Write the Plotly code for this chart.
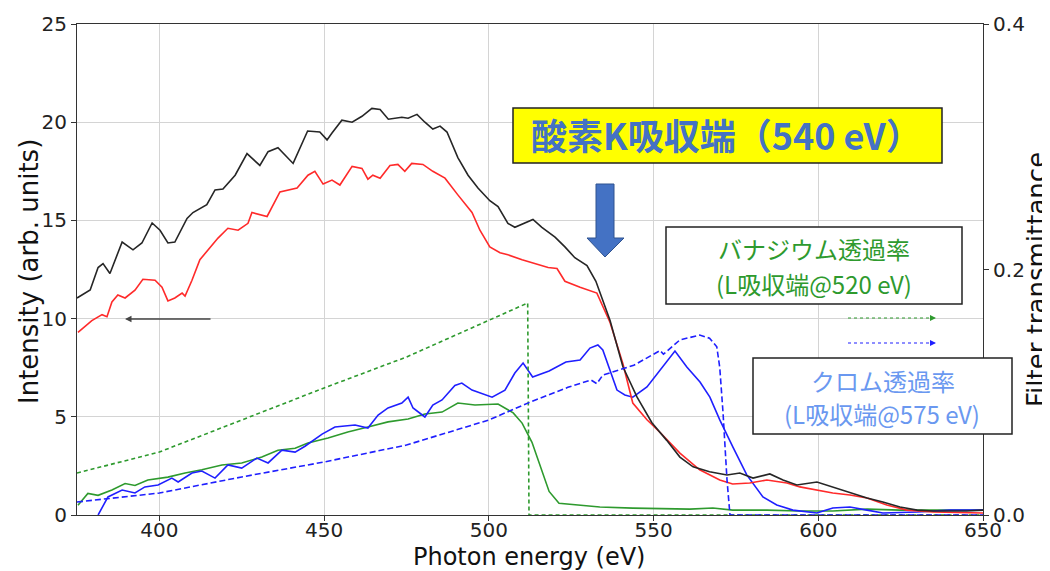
import plotly.graph_objects as go

# ---------------- data ----------------
bk_x = [375, 379, 381.4, 382.9, 385, 388.7, 392, 394.7, 397.8, 400.2, 402.6, 404.7, 408.4, 410.2, 414.4,
        416.9, 419.3, 423, 426.6, 430.5, 433, 436, 440.6, 445, 448.7, 450.9, 452.4, 455.4, 458.5, 461.5,
        464.5, 467, 469.5, 473.6, 475.5, 478.2, 480.6, 483, 485.2, 487.3, 490.6, 493.7, 496.7, 500.3,
        502.8, 505.8, 507.9, 511.6, 513.4, 516.1, 520.1, 523.1, 526.1, 529.8, 532.5, 536.8, 540.7, 545,
        549.5, 554, 558, 562, 567, 572.3, 576.2, 580.2, 585.3, 589.3, 593.5, 599.6, 604.4, 609.6, 614.8,
        619.6, 624.8, 630, 634.8, 640, 645, 650]
bk_y = [11.05, 11.46, 12.6, 12.8, 12.3, 13.9, 13.5, 13.85, 14.87, 14.5, 13.85, 13.9, 15.1, 15.4, 15.8,
        16.55, 16.6, 17.3, 18.4, 17.8, 18.5, 18.7, 17.9, 19.55, 19.5, 19.1, 19.45, 20.1, 20.0, 20.3,
        20.7, 20.65, 20.15, 20.25, 20.2, 20.4, 20.0, 19.65, 19.8, 19.5, 18.2, 17.3, 16.65, 16.0,
        15.7, 14.85, 14.65, 14.9, 15.05, 14.65, 14.15, 13.65, 13.1, 12.7, 11.9, 9.9, 7.55, 6.0,
        4.7, 3.8, 2.95, 2.45, 2.2, 2.04, 2.14, 1.88, 2.09, 1.78, 1.53, 1.68, 1.43, 1.12, 0.87,
        0.66, 0.41, 0.25, 0.2, 0.2, 0.2, 0.25]

rd_x = [375.3, 379.5, 382.6, 384.1, 385.6, 387.4, 389.6, 392.6, 395, 398.7, 400.8, 402.6, 404.7, 406.9,
        407.8, 409.9, 412.3, 414.8, 417.8, 420.8, 423.9, 426.9, 428.1, 432.7, 436.6, 441.8, 445.1, 447.2,
        449.7, 452.4, 454.8, 458.5, 461.5, 463.3, 464.8, 467, 470, 472.4, 474.5, 476.6, 480, 483, 486.7,
        490.6, 494.9, 497.3, 500.3, 503.4, 505.8, 510.1, 514, 518, 520.7, 523.1, 527.7, 532.8, 536.8,
        540.7, 543.7, 548, 552, 558, 564, 570.1, 574, 579.2, 584.4, 590.5, 594.4, 599.6, 604.4, 609.6,
        614.8, 620.8, 626.9, 634.8, 642, 650]
rd_y = [9.3, 9.9, 10.2, 10.1, 10.85, 11.2, 11.05, 11.45, 12.0, 11.95, 11.6, 10.9, 11.05, 11.3,
        11.15, 11.95, 13.0, 13.5, 14.1, 14.6, 14.5, 14.85, 15.4, 15.2, 16.45, 16.65, 17.3, 17.5,
        16.85, 17.05, 16.8, 17.75, 17.65, 17.1, 17.3, 17.15, 17.8, 17.85, 17.5, 17.9, 17.85, 17.5, 17.15,
        16.3, 15.4, 14.5, 13.65, 13.35, 13.25, 13.0, 12.8, 12.6, 12.55, 11.9, 11.6, 11.3, 9.8,
        7.7, 5.7, 4.85, 4.2, 3.15, 2.3, 1.78, 1.58, 1.63, 1.78, 1.63, 1.43, 1.27, 1.12, 1.02,
        0.87, 0.51, 0.25, 0.15, 0.12, 0.1]

gn_x = [375.3, 378.3, 381.4, 385.6, 389.6, 392.6, 396.5, 402.6, 407.8, 412.9, 419, 425, 431.1, 436,
        441.2, 445.1, 451.2, 457.2, 463.3, 469.4, 475.5, 480.6, 485.8, 490.6, 495.8, 502.8, 507.4,
        510.1, 513.1, 515.8, 518.3, 521.3, 527.7, 533.7, 543.7, 554, 561, 568, 574, 584.4, 594.4,
        604.4, 614.8, 624.8, 637, 650]
gn_y = [0.5, 1.1, 1.0, 1.27, 1.6, 1.5, 1.78, 1.93, 2.14, 2.3, 2.55, 2.65, 2.95, 3.3,
        3.4, 3.67, 3.92, 4.23, 4.48, 4.74, 4.89, 5.14, 5.24, 5.7, 5.6, 5.65, 5.2,
        4.68, 3.7, 2.45, 1.2, 0.6, 0.5, 0.41, 0.35, 0.3, 0.3, 0.36, 0.25, 0.25, 0.2,
        0.2, 0.3, 0.25, 0.25, 0.25]

bl_x = [381.4, 384.4, 388.7, 392.6, 395.6, 399.6, 403.8, 405.7, 409.9, 412.9, 416.9, 420.8, 425, 429.6,
        433, 437.2, 441.2, 444.2, 449.4, 453.3, 456.3, 459.4, 463.3, 466.4, 469.4, 473.6, 475.5, 477,
        480.6, 483, 485.8, 489.7, 491.8, 494.9, 501, 504.9, 507.9, 510.4, 513.3, 518.3, 523.4, 527.7,
        530.7, 533.1, 534.6, 536.8, 538.9, 541.3, 543.7, 548, 552, 556.5, 560.1, 564.1, 567.1, 570.1,
        574.1, 578.3, 583.2, 587.4, 592.3, 599.6, 604.4, 609.6, 614.8, 619.6, 630, 640, 650]
bl_y = [0.0, 0.92, 1.27, 1.12, 1.43, 1.53, 1.88, 1.68, 2.14, 2.24, 1.88, 2.55, 2.39, 2.9,
        2.65, 3.3, 3.2, 3.5, 4.12, 4.48, 4.53, 4.58, 4.43, 5.09, 5.45, 5.7, 6.0, 5.45,
        4.99, 5.6, 5.86, 6.6, 6.72, 6.36, 6.0, 6.36, 7.23, 7.74, 7.03, 7.33, 7.79, 7.89,
        8.5, 8.66, 8.4, 7.38, 6.36, 6.11, 6.0, 6.52, 7.38, 8.35, 7.54, 6.77, 6.0, 4.84,
        3.46, 2.04, 0.92, 0.51, 0.25, 0.1, 0.36, 0.41, 0.25, 0.1, 0.15, 0.25, 0.25]

# filter transmittance (right axis)
vt_x = [375, 400, 425, 450, 475, 500, 511.8, 512.2, 650]
vt_y = [0.0342, 0.0513, 0.0774, 0.1035, 0.1287, 0.159, 0.1727, 0.0, 0.0]

ct_x = [375, 400, 425, 450, 475, 500, 513, 524, 531, 532.8, 534.6, 544, 552, 553, 558, 564, 567,
        569.2, 570.1, 571.1, 572.3, 573.2, 650]
ct_y = [0.0106, 0.0179, 0.031, 0.0432, 0.057, 0.0774, 0.0925, 0.104, 0.11, 0.107, 0.114, 0.122,
        0.134, 0.131, 0.1426, 0.1466, 0.144, 0.137, 0.12, 0.083, 0.0285, 0.0, 0.0]

x_ticks = [400, 450, 500, 550, 600, 650]
y_ticks = [0, 5, 10, 15, 20, 25]
y2_ticks = [0.0, 0.2, 0.4]
y2_ticktext = ["0.0", "0.2", "0.4"]

x_title = "Photon energy (eV)"
y_title = "Intensity (arb. units)"
y2_title = "Filter transmittance"
title_box = "酸素K吸収端（540 eV）"
v_label = ["バナジウム透過率", "(L吸収端@520 eV)"]
cr_label = ["クロム透過率", "(L吸収端@575 eV)"]

# ---------------- colours / styles ----------------
C_BLACK = "#262626"
C_RED = "#ff2a2a"
C_GREEN = "#2e9a2e"
C_BLUE = "#1f1fff"
C_LBLUE = "#6a98f0"
C_TITLE = "#4472c4"
JP = "Noto Sans CJK JP"
LAT = "DejaVu Sans"

fig = go.Figure()
fig.add_trace(go.Scatter(x=vt_x, y=vt_y, yaxis="y2", mode="lines",
                         line=dict(color=C_GREEN, width=1.6, dash="4px,3px")))
fig.add_trace(go.Scatter(x=ct_x, y=ct_y, yaxis="y2", mode="lines",
                         line=dict(color=C_BLUE, width=1.6, dash="6px,3px")))
fig.add_trace(go.Scatter(x=gn_x, y=gn_y, mode="lines", line=dict(color=C_GREEN, width=1.6)))
fig.add_trace(go.Scatter(x=bl_x, y=bl_y, mode="lines", line=dict(color=C_BLUE, width=1.6)))
fig.add_trace(go.Scatter(x=rd_x, y=rd_y, mode="lines", line=dict(color=C_RED, width=1.6)))
fig.add_trace(go.Scatter(x=bk_x, y=bk_y, mode="lines", line=dict(color=C_BLACK, width=1.6)))

# plot-area pixel geometry (page pixels) -> paper coordinates for overlay decorations
L, R, T, B = 77, 983, 24, 515
OFF = 8  # default body margin of the page
def px(v):
    return (v - L) / (R - L)
def py(v):
    return (B - v) / (B - T)

shapes = []
annotations = []

def label(x, y, text, size, color, bold=False, family=JP, angle=0, yanchor="middle"):
    annotations.append(dict(xref="paper", yref="paper", x=px(x), y=py(y), xanchor="center", yanchor=yanchor,
                            text=("<b>%s</b>" % text) if bold else text, showarrow=False, textangle=angle,
                            font=dict(family=family, size=size, color=color)))

# axis titles
label(529, 573, x_title, 24, "#111", family=LAT, yanchor="bottom")
label(29, 272, y_title, 26, "#111", family=LAT, angle=-90)
label(1037, 280, y2_title, 26, "#111", family=LAT, angle=-90)

# yellow title box
shapes.append(dict(type="rect", xref="paper", yref="paper", x0=px(513), x1=px(942), y0=py(163), y1=py(108),
                   fillcolor="#ffff00", line=dict(color="#222", width=1.5), layer="above"))
label(726, 134, title_box, 36, C_TITLE, bold=True)

# blue block arrow
path = "M {a},{t} L {b},{t} L {b},{h} L {c},{h} L {tx},{ty} L {d},{h} L {a},{h} Z".format(
    a=px(596), b=px(614), t=py(184), h=py(238), c=px(624), d=px(587), tx=px(605), ty=py(257))
shapes.append(dict(type="path", xref="paper", yref="paper", path=path, fillcolor=C_TITLE,
                   line=dict(color="#2f528f", width=1), layer="above"))

# vanadium label box
shapes.append(dict(type="rect", xref="paper", yref="paper", x0=px(666), x1=px(962), y0=py(304), y1=py(227),
                   fillcolor="white", line=dict(color="#222", width=1.5), layer="above"))
label(814, 248, v_label[0], 24, C_GREEN)
label(814, 283, v_label[1], 24, C_GREEN)

# chromium label box
shapes.append(dict(type="rect", xref="paper", yref="paper", x0=px(753), x1=px(1012), y0=py(434), y1=py(358),
                   fillcolor="white", line=dict(color="#222", width=1.5), layer="above"))
label(883, 380, cr_label[0], 24, C_LBLUE)
label(882, 413, cr_label[1], 24, C_LBLUE)

# axis-indicating arrows
annotations.append(dict(xref="paper", yref="paper", x=px(125), y=py(319), ax=87, ay=0, text="",
                        showarrow=True, arrowhead=2, arrowsize=1, arrowwidth=1.3, arrowcolor="#444"))
for yy, col in ((318, C_GREEN), (343, C_BLUE)):
    shapes.append(dict(type="line", xref="paper", yref="paper", x0=px(848), x1=px(932), y0=py(yy), y1=py(yy),
                       line=dict(color=col, width=1.2, dash="dot"), layer="above"))
    annotations.append(dict(xref="paper", yref="paper", x=px(936), y=py(yy), ax=-5, ay=0, text="",
                            showarrow=True, arrowhead=2, arrowsize=1, arrowwidth=1.2, arrowcolor=col))

axis_common = dict(showline=True, linecolor="#333", linewidth=1.2, ticks="outside", ticklen=5,
                   tickcolor="#333", tickfont=dict(family=LAT, size=20, color="#222"), zeroline=False,
                   automargin=False)

fig.update_layout(
    width=1050, height=571,
    margin=dict(l=L - OFF, r=1050 - (R - OFF), t=T - OFF, b=571 - (B - OFF), autoexpand=False),
    paper_bgcolor="white", plot_bgcolor="white",
    showlegend=False,
    xaxis=dict(range=[375, 650], tickvals=x_ticks, showgrid=True, gridcolor="#d4d4d4", gridwidth=1,
               mirror=True, ticklabelstandoff=-8, **axis_common),
    yaxis=dict(range=[0, 25], tickvals=y_ticks, showgrid=True, gridcolor="#d4d4d4", gridwidth=1,
               **axis_common),
    yaxis2=dict(range=[0, 0.4], tickvals=y2_ticks, ticktext=y2_ticktext, overlaying="y", side="right",
                showgrid=False, **axis_common),
    shapes=shapes, annotations=annotations,
)

fig.write_html("out.html")
